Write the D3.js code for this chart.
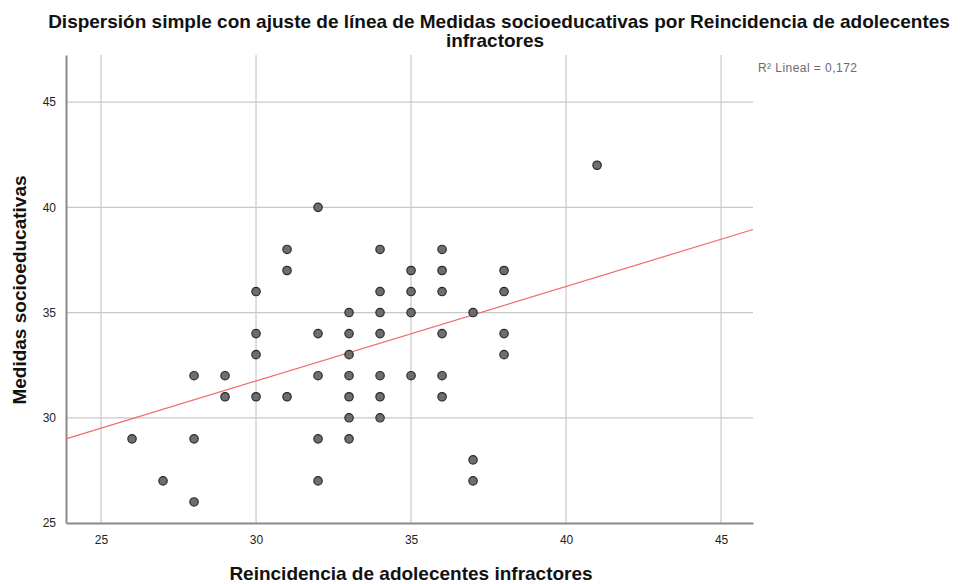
<!DOCTYPE html>
<html><head><meta charset="utf-8">
<script src="https://cdn.jsdelivr.net/npm/d3@7"></script>
<style>body{margin:0;background:#fff;} svg{display:block;font-family:"Liberation Sans",Arial,sans-serif;}</style>
</head><body>
<svg id="c" width="961" height="584"></svg>
<script>
const titleLines = ["Dispersión simple con ajuste de línea de Medidas socioeducativas por Reincidencia de adolecentes", "infractores"];
const xLabel = "Reincidencia de adolecentes infractores";
const yLabel = "Medidas socioeducativas";
const r2Label = "R² Lineal = 0,172";
const xTicks = [25, 30, 35, 40, 45];
const yTicks = [25, 30, 35, 40, 45];
const xValues = [26,27,28,28,28,29,29,30,30,30,30,31,31,31,32,32,32,32,32,33,33,33,33,33,33,33,34,34,34,34,34,34,34,35,35,35,35,36,36,36,36,36,36,37,37,37,38,38,38,38,41];
const yValues = [29,27,32,29,26,32,31,36,34,33,31,38,37,31,40,34,32,29,27,35,34,33,32,31,30,29,38,36,35,34,32,31,30,37,36,35,32,38,37,36,34,32,31,35,28,27,37,36,34,33,42];
const fitIntercept = 18.28;
const fitSlope = 0.449;

const svg = d3.select("#c");
const L = 66, R = 753, T = 55, B = 523;
const x = d3.scaleLinear().domain([23.87, 46.03]).range([L, R]);
const y = d3.scaleLinear().domain([25, 47.24]).range([B, T]);

// grid
const grid = svg.append("g");
grid.selectAll("line.v").data(xTicks).join("line")
  .attr("x1", d => x(d)).attr("x2", d => x(d)).attr("y1", T).attr("y2", B)
  .attr("stroke", "#c8c8c8").attr("stroke-width", 1.2);
grid.selectAll("line.h").data(yTicks.filter(d => d > 25)).join("line")
  .attr("x1", L).attr("x2", R).attr("y1", d => y(d)).attr("y2", d => y(d))
  .attr("stroke", "#c8c8c8").attr("stroke-width", 1.2);

// axes
const xAxis = svg.append("g").attr("transform", `translate(0,${B})`)
  .call(d3.axisBottom(x).tickValues(xTicks).tickSize(0).tickPadding(12));
const yAxis = svg.append("g").attr("transform", `translate(${L},0)`)
  .call(d3.axisLeft(y).tickValues(yTicks).tickSize(0).tickPadding(10));
[xAxis, yAxis].forEach(a => {
  a.select(".domain").attr("stroke", "#8a8a8a").attr("stroke-width", 2);
  a.selectAll("text").attr("font-size", 12).attr("fill", "#222")
   .attr("font-family", '"Liberation Sans",Arial,sans-serif');
});

// fit line
const xd = x.domain();
svg.append("line")
  .attr("x1", x(xd[0])).attr("y1", y(fitIntercept + fitSlope * xd[0]))
  .attr("x2", x(xd[1])).attr("y2", y(fitIntercept + fitSlope * xd[1]))
  .attr("stroke", "#f26b6b").attr("stroke-width", 1.2);

// points
svg.append("g").selectAll("circle").data(xValues.map((v, i) => [v, yValues[i]])).join("circle")
  .attr("cx", d => x(d[0])).attr("cy", d => y(d[1])).attr("r", 4.2)
  .attr("fill", "#666").attr("fill-opacity", 0.95)
  .attr("stroke", "#2a2a2a").attr("stroke-width", 1.2);

// title
svg.append("text").attr("x", 499).attr("y", 28).attr("text-anchor", "middle")
  .attr("font-size", 19).attr("font-weight", "bold").attr("fill", "#111").text(titleLines[0]);
svg.append("text").attr("x", 495).attr("y", 47).attr("text-anchor", "middle")
  .attr("font-size", 19).attr("font-weight", "bold").attr("fill", "#111").text(titleLines[1]);

// axis labels
svg.append("text").attr("x", 411).attr("y", 580).attr("text-anchor", "middle")
  .attr("font-size", 19).attr("font-weight", "bold").attr("fill", "#111").text(xLabel);
svg.append("text").attr("transform", "translate(26,290) rotate(-90)").attr("text-anchor", "middle")
  .attr("font-size", 19).attr("font-weight", "bold").attr("fill", "#111").text(yLabel);

// R2
svg.append("text").attr("x", 758).attr("y", 72).attr("font-size", 12).attr("letter-spacing", 0.45)
  .attr("fill", "#6a6a6a").text(r2Label);
</script>
</body></html>
